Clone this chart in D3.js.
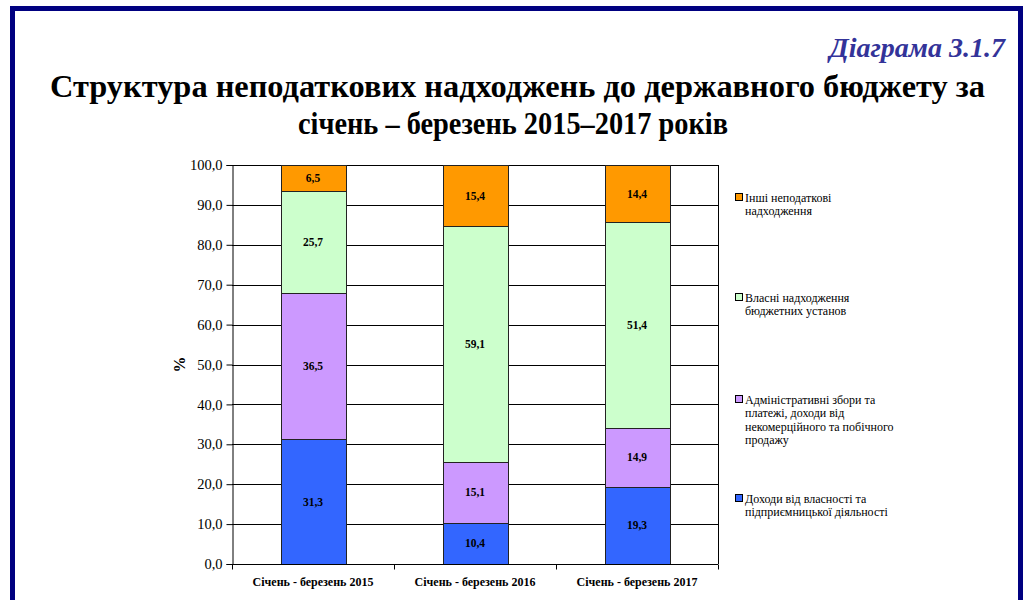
<!DOCTYPE html>
<html lang="en">
<head>
<meta charset="UTF-8">
<script src="https://cdn.jsdelivr.net/npm/d3@7"></script>
<style>
  body { margin: 0; }
  svg text { font-family: 'Liberation Serif', 'Times New Roman', 'Noto Serif', serif; }
</style>
</head>
<body>
<script>
  const width = 1026
  const height = 600

  // дані
  const categories = ['Січень - березень 2015', 'Січень - березень 2016', 'Січень - березень 2017']
  const incomeProperty = [31.3, 10.4, 19.3]
  const adminFees = [36.5, 15.1, 14.9]
  const ownRevenue = [25.7, 59.1, 51.4]
  const otherRevenue = [6.5, 15.4, 14.4]
  const yTicks = [0, 10, 20, 30, 40, 50, 60, 70, 80, 90, 100]

  const colors = ['#3366FF', '#CC99FF', '#CCFFCC', '#FF9900']
  // рядки легенди (зверху вниз)
  const legendLines = [
    ['Інші неподаткові', 'надходження'],
    ['Власні надходження', 'бюджетних установ'],
    ['Адміністративні збори та', 'платежі, доходи від', 'некомерційного та побічного', 'продажу'],
    ['Доходи від власності та', 'підприємницької діяльності']
  ]
  const legendSeries = [3, 2, 1, 0]
  const legendY = [198, 298, 400, 499]

  const svg = d3.select('body').append('svg')
    .attr('width', width)
    .attr('height', height)

  // рамка сторінки
  svg.append('rect')
    .attr('x', 12.5).attr('y', 8.5)
    .attr('width', 1008).attr('height', 620)
    .attr('fill', 'none')
    .attr('stroke', '#000080')
    .attr('stroke-width', 5)

  svg.append('text')
    .attr('x', 1005).attr('y', 57)
    .attr('text-anchor', 'end')
    .attr('font-size', 28)
    .attr('font-style', 'italic')
    .attr('font-weight', 'bold')
    .attr('fill', '#333399')
    .text('Діаграма 3.1.7')

  svg.append('text')
    .attr('x', 50).attr('y', 97)
    .attr('font-size', 31)
    .attr('font-weight', 'bold')
    .attr('textLength', 935)
    .attr('lengthAdjust', 'spacingAndGlyphs')
    .text('Структура неподаткових надходжень до державного бюджету за')

  svg.append('text')
    .attr('x', 298).attr('y', 134)
    .attr('font-size', 31)
    .attr('font-weight', 'bold')
    .attr('textLength', 430)
    .attr('lengthAdjust', 'spacingAndGlyphs')
    .text('січень – березень 2015–2017 років')

  const padding = { left: 232, right: 308, top: 165, bottom: 36 }
  const plotW = width - padding.left - padding.right
  const plotH = height - padding.top - padding.bottom

  const xScale = d3.scaleBand()
    .domain(categories)
    .range([0, plotW])
    .paddingInner(0.6)
    .paddingOuter(0.3)
  const yScale = d3.scaleLinear()
    .domain([0, 100])
    .range([plotH, 0])

  const g = svg.append('g')
    .attr('transform', 'translate(' + padding.left + ',' + padding.top + ')')

  // сітка
  g.append('g')
    .selectAll('line')
    .data(yTicks)
    .enter()
    .append('line')
    .attr('x1', 0).attr('x2', plotW)
    .attr('y1', d => Math.round(yScale(d)) + 0.5)
    .attr('y2', d => Math.round(yScale(d)) + 0.5)
    .attr('stroke', '#000')

  g.append('line')
    .attr('x1', plotW + 0.5).attr('x2', plotW + 0.5)
    .attr('y1', 0).attr('y2', plotH)
    .attr('stroke', '#000')

  const rows = categories.map((c, i) => ({
    cat: c,
    s0: incomeProperty[i], s1: adminFees[i], s2: ownRevenue[i], s3: otherRevenue[i]
  }))
  const stack = d3.stack().keys(['s0', 's1', 's2', 's3'])(rows)

  const layers = g.selectAll('.layer')
    .data(stack)
    .enter()
    .append('g')
    .attr('class', 'layer')
    .attr('fill', (d, i) => colors[i])

  layers.selectAll('rect')
    .data(d => d)
    .enter()
    .append('rect')
    .attr('x', d => Math.round(xScale(d.data.cat)) + 0.5)
    .attr('y', d => Math.round(yScale(d[1])) + 0.5)
    .attr('width', Math.round(xScale.bandwidth()))
    .attr('height', d => Math.round(yScale(d[0])) - Math.round(yScale(d[1])))
    .attr('stroke', '#222')
    .attr('stroke-width', 1)

  layers.selectAll('text')
    .data(d => d)
    .enter()
    .append('text')
    .attr('x', d => xScale(d.data.cat) + xScale.bandwidth() / 2)
    .attr('y', d => (yScale(d[0]) + yScale(d[1])) / 2 + 4)
    .attr('text-anchor', 'middle')
    .attr('font-size', 11.5)
    .attr('font-weight', 'bold')
    .attr('fill', '#000')
    .text(d => (d[1] - d[0]).toFixed(1).replace('.', ','))

  // осі
  const yAxis = d3.axisLeft(yScale)
    .tickValues(yTicks)
    .tickSize(6)
    .tickFormat(d => d.toFixed(1).replace('.', ','))

  const yG = g.append('g')
    .attr('transform', 'translate(0.5,0)')
    .call(yAxis)
  yG.selectAll('text')
    .attr('font-size', 14.5)
    .attr('fill', '#000')
    .attr('dx', -1)
  yG.selectAll('line, path').attr('stroke', '#000')

  const xAxis = d3.axisBottom(xScale).tickSize(0).tickPadding(13)
  const xG = g.append('g')
    .attr('transform', 'translate(0,' + (plotH + 0.5) + ')')
    .call(xAxis)
  xG.select('.domain').remove()
  xG.selectAll('text')
    .attr('font-size', 12)
    .attr('font-weight', 'bold')
    .attr('fill', '#000')
  xG.append('line')
    .attr('x1', 0).attr('x2', plotW)
    .attr('stroke', '#000')
  xG.selectAll('.bound')
    .data(d3.range(categories.length + 1))
    .enter()
    .append('line')
    .attr('class', 'bound')
    .attr('x1', i => Math.round(i * plotW / categories.length) + 0.5)
    .attr('x2', i => Math.round(i * plotW / categories.length) + 0.5)
    .attr('y1', 0).attr('y2', 5)
    .attr('stroke', '#000')

  svg.append('text')
    .attr('transform', 'translate(185,' + (padding.top + plotH / 2) + ') rotate(-90)')
    .attr('text-anchor', 'middle')
    .attr('font-size', 16)
    .attr('font-weight', 'bold')
    .text('%')

  // легенда
  const leg = svg.append('g')
  legendSeries.forEach((s, k) => {
    leg.append('rect')
      .attr('x', 735.5).attr('y', legendY[k] - 4.5)
      .attr('width', 7).attr('height', 7)
      .attr('fill', colors[s])
      .attr('stroke', '#000')
    leg.append('text')
      .attr('x', 745).attr('y', legendY[k] + 4)
      .attr('font-size', 12)
      .selectAll('tspan')
      .data(legendLines[k])
      .enter()
      .append('tspan')
      .attr('x', 745)
      .attr('dy', (d, i) => i === 0 ? 0 : 13.3)
      .text(d => d)
  })
</script>
</body>
</html>
